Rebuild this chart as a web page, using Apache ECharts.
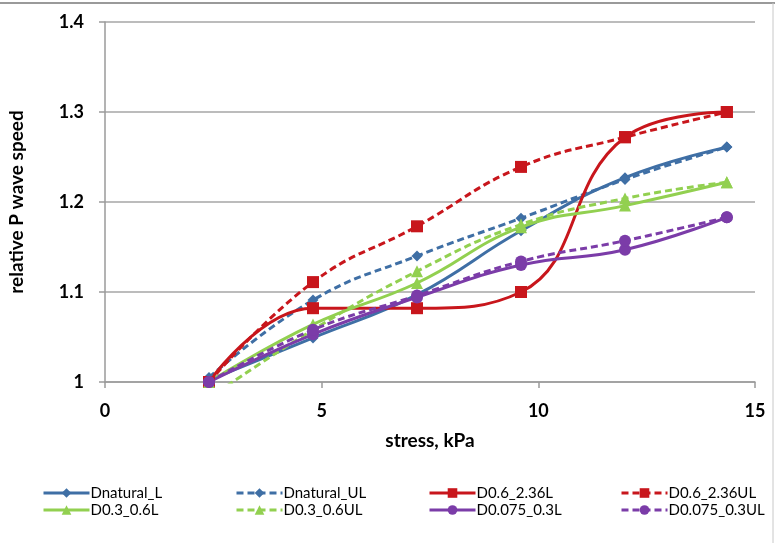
<!DOCTYPE html>
<html><head><meta charset="utf-8">
<script src="https://cdn.jsdelivr.net/npm/echarts@6/dist/echarts.min.js"></script>
<style>html,body{margin:0;padding:0;background:#fff}#c{width:775px;height:543px}</style>
</head><body><div id="c"></div>
<script>
const stress = [2.4, 4.8, 7.2, 9.6, 12.0, 14.35];
const xTicks = [0, 5, 10, 15];
const yTicks = [1, 1.1, 1.2, 1.3, 1.4];
const seriesNames = ['Dnatural_L','Dnatural_UL','D0.6_2.36L','D0.6_2.36UL','D0.3_0.6L','D0.3_0.6UL','D0.075_0.3L','D0.075_0.3UL'];
const dnaturalL   = [1.002, 1.049, 1.097, 1.168, 1.227, 1.261];
const dnaturalUL  = [1.005, 1.091, 1.140, 1.182, 1.225, 1.261];
const d06L        = [1.000, 1.082, 1.082, 1.100, 1.272, 1.300];
const d06UL       = [1.000, 1.111, 1.173, 1.239, 1.272, 1.300];
const d03L        = [1.000, 1.064, 1.110, 1.172, 1.196, 1.222];
const d03UL       = [0.982, 1.058, 1.123, 1.175, 1.204, 1.222];
const d0075L      = [1.000, 1.053, 1.094, 1.130, 1.147, 1.183];
const d0075UL     = [1.000, 1.058, 1.096, 1.134, 1.157, 1.183];

const values = [dnaturalL, dnaturalUL, d06L, d06UL, d03L, d03UL, d0075L, d0075UL];
const colors = ['#3F6FA5','#3F6FA5','#C8161C','#C8161C','#92D050','#92D050','#7B3CA8','#7B3CA8'];
const symbols = ['diamond','diamond','rect','rect','triangle','triangle','circle','circle'];
const symSizes = [11,11,12,12,12,12,12,12];

const series = seriesNames.map((n, i) => ({
  name: n,
  type: 'line',
  data: stress.map((x, j) => [x, values[i][j]]),
  smooth: 0.45,
  clip: true,
  symbol: symbols[i],
  symbolSize: symSizes[i],
  lineStyle: { width: 3, color: colors[i], type: i % 2 ? [7, 4] : 'solid' },
  itemStyle: { color: colors[i] }
}));

const legendCols = [[0, 4], [1, 5], [2, 6], [3, 7]];
const legendLeft = [42, 235, 428, 620];
const legends = legendCols.map((idx, k) => ({
  data: idx.map(i => seriesNames[i]),
  orient: 'vertical',
  left: legendLeft[k], top: 485,
  itemWidth: 46, itemHeight: 12, itemGap: 1,
  padding: 0,
  lineStyle: { width: 3 },
  textStyle: { fontFamily: 'Lato', fontSize: 15, color: '#000', lineHeight: 16, padding: [0, 0, 0, -4] }
}));

const chart = echarts.init(document.getElementById('c'), null, { renderer: 'canvas' });
chart.setOption({
  animation: false,
  backgroundColor: '#fff',
  grid: { left: 105, right: 20, top: 22, bottom: 161, outerBoundsMode: 'none', containLabel: false },
  xAxis: {
    type: 'value', min: 0, max: 15, interval: 5,
    name: 'stress, kPa', nameLocation: 'middle', nameGap: 49,
    nameTextStyle: { fontFamily: 'Lato', fontWeight: 'bold', fontSize: 19, color: '#000' },
    axisLine: { show: true, lineStyle: { color: '#9a9a9a', width: 1.5 } },
    axisTick: { show: true, length: 6, lineStyle: { color: '#9a9a9a', width: 1.5 } },
    axisLabel: { fontFamily: 'Lato', fontWeight: 'bold', fontSize: 18, color: '#000', margin: 20,
      formatter: v => xTicks.includes(v) ? String(v) : '' },
    splitLine: { show: false }
  },
  yAxis: {
    type: 'value', min: 1, max: 1.4, interval: 0.1,
    name: 'relative P wave speed', nameLocation: 'middle', nameGap: 79, nameRotate: 90,
    nameTextStyle: { fontFamily: 'Lato', fontWeight: 'bold', fontSize: 19, color: '#000' },
    axisLine: { show: true, lineStyle: { color: '#9a9a9a', width: 1.5 } },
    axisTick: { show: true, length: 6, lineStyle: { color: '#9a9a9a', width: 1.5 } },
    axisLabel: { fontFamily: 'Lato', fontWeight: 'bold', fontSize: 18, color: '#000', margin: 21,
      formatter: v => { const t = yTicks.find(y => Math.abs(y - v) < 1e-6); return t === undefined ? '' : (t === 1 ? '1' : t.toFixed(1)); } },
    splitLine: { show: true, lineStyle: { color: '#a6a6a6', width: 1.5 } }
  },
  legend: legends,
  graphic: [
    { type: 'line', shape: { x1: 0, y1: 3, x2: 775, y2: 3 }, style: { stroke: '#9a9a9a', lineWidth: 2 } },
    { type: 'line', shape: { x1: 773, y1: 3, x2: 773, y2: 543 }, style: { stroke: '#c8c8c8', lineWidth: 1 } }
  ],
  series: series
});
</script></body></html>
